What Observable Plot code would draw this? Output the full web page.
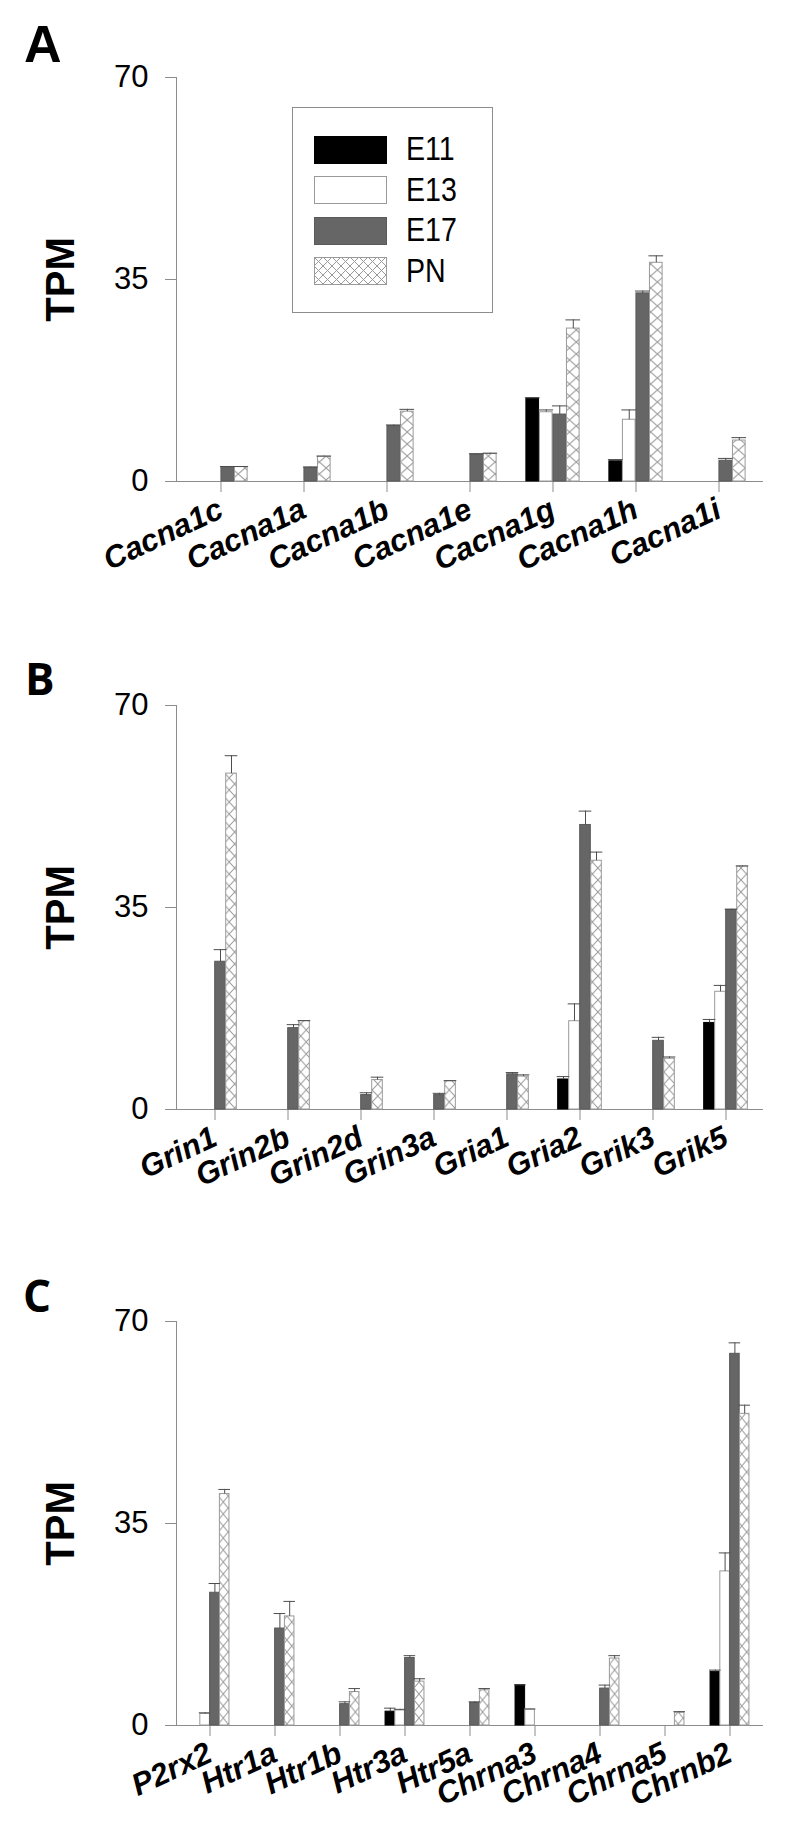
<!DOCTYPE html>
<html><head><meta charset="utf-8">
<script src="https://cdn.jsdelivr.net/npm/d3@7"></script>
<script src="https://cdn.jsdelivr.net/npm/@observablehq/plot@0.6"></script>
<style>
body{margin:0;background:#fff;}
#page{position:relative;width:792px;height:1836px;overflow:hidden;background:#fff;}
.letter{position:absolute;line-height:1;font-weight:bold;color:#000;}
.legtext{position:absolute;line-height:1;font-family:"Liberation Sans Narrow","Arial Narrow","Liberation Sans",Arial,sans-serif;font-size:34px;color:#000;transform-origin:0 0;white-space:nowrap;}
</style></head><body><div id="page"></div>
<script>
// ---------- data ----------
const stages = ["E11", "E13", "E17", "PN"];

const genesA = ["Cacna1c", "Cacna1a", "Cacna1b", "Cacna1e", "Cacna1g", "Cacna1h", "Cacna1i"];
const A_E11 = [null, null, null, null, 14.4, 3.5, null];
const A_E11_err = [null, null, null, null, 0.1, 0.3, null];
const A_E13 = [null, null, null, null, 12.0, 10.7, null];
const A_E13_err = [null, null, null, null, 0.4, 1.7, null];
const A_E17 = [2.5, 2.4, 9.6, 4.7, 11.6, 32.6, 3.6];
const A_E17_err = [0.1, 0.1, 0.2, 0.1, 1.5, 0.4, 0.4];
const A_PN = [2.5, 4.3, 12.1, 4.8, 26.5, 37.9, 7.1];
const A_PN_err = [0.1, 0.1, 0.4, 0.1, 1.5, 1.2, 0.5];

const genesB = ["Grin1", "Grin2b", "Grin2d", "Grin3a", "Gria1", "Gria2", "Grik3", "Grik5"];
const B_E11 = [null, null, null, null, null, 5.2, null, 15.0];
const B_E11_err = [null, null, null, null, null, 0.5, null, 0.6];
const B_E13 = [null, null, null, null, null, 15.3, null, 20.4];
const B_E13_err = [null, null, null, null, null, 3.0, null, 1.1];
const B_E17 = [25.6, 14.1, 2.5, 2.5, 6.1, 49.3, 11.9, 34.6];
const B_E17_err = [2.1, 0.6, 0.4, 0.3, 0.3, 2.4, 0.6, 0.1];
const B_PN = [58.2, 15.3, 5.1, 4.9, 5.7, 43.1, 8.8, 42.1];
const B_PN_err = [3.1, 0.1, 0.5, 0.1, 0.3, 1.5, 0.3, 0.1];

const genesC = ["P2rx2", "Htr1a", "Htr1b", "Htr3a", "Htr5a", "Chrna3", "Chrna4", "Chrna5", "Chrnb2"];
const C_E11 = [null, null, null, 2.4, null, 7.0, null, null, 9.3];
const C_E11_err = [null, null, null, 0.6, null, 0.05, null, null, 0.3];
const C_E13 = [2.0, null, null, 2.6, null, 2.8, null, null, 26.7];
const C_E13_err = [0.2, null, null, 0.2, null, 0.05, null, null, 3.2];
const C_E17 = [23.0, 16.8, 3.7, 11.7, 3.9, null, 6.4, null, 64.4];
const C_E17_err = [1.6, 2.6, 0.4, 0.4, 0.2, null, 0.6, null, 1.9];
const C_PN = [40.1, 18.9, 5.8, 7.6, 6.1, null, 11.6, 2.2, 54.0];
const C_PN_err = [0.8, 2.6, 0.6, 0.5, 0.3, null, 0.5, 0.2, 1.5];

const yTicks = [0, 35, 70];

// ---------- layout ----------
const W = 792, ML = 176, MR = 29, MT = 77, PH = 404;
const AXIS = "#8c8c8c", ERR = "#4d4d4d", HATCH = "#9a9a9a";
const page = document.getElementById("page");

// shared pattern defs
const defsSvg = d3.select(page).append("svg").attr("width", 0).attr("height", 0)
  .style("position", "absolute").style("left", 0).style("top", 0);
const defs = defsSvg.append("defs");
function addHatch(id, w, h, x0) {
  const p = defs.append("pattern").attr("id", id).attr("patternUnits", "userSpaceOnUse")
    .attr("width", w).attr("height", h).attr("x", x0 || 0);
  p.append("rect").attr("width", w).attr("height", h).attr("fill", "#fff");
  p.append("path").attr("d", `M0,0L${w},${h}M${w},0L0,${h}`)
    .attr("stroke", HATCH).attr("stroke-width", 1).attr("fill", "none");
}
addHatch("hatchLegend", 9, 9);

function panel({genes, vals, errs, frac, top, height, hatchId}) {
  const n = genes.length;
  const step = (W - ML - MR) / n;
  const w = step * frac / 4;
  const firstPN = ML + step * (1 - frac) / 2 + 3 * w;
  addHatch(hatchId, w, 12, firstPN);
  const fills = {E11: "#000", E13: "#fff", E17: "#666", PN: `url(#${hatchId})`};
  const strokes = {E11: "#000", E13: HATCH, E17: "#5a5a5a", PN: HATCH};
  const rows = [];
  stages.forEach((s, k) => genes.forEach((g, i) => {
    if (vals[k][i] != null) rows.push({gene: g, stage: s, v: vals[k][i], e: errs[k][i]});
  }));
  const marks = [
    Plot.ruleY([0], {stroke: AXIS}),
    Plot.frame({anchor: "left", stroke: AXIS}),
    Plot.axisY({ticks: yTicks, tickSize: 11, tickPadding: 17, fontSize: 31, stroke: AXIS, fill: "#000", label: null}),
    Plot.axisX({tickSize: 11, tickPadding: 15, tickRotate: -25, fontSize: 31, fontWeight: "bold",
      fontStyle: "italic", stroke: AXIS, fill: "#000", label: null}),
    Plot.text(["TPM"], {frameAnchor: "left", textAnchor: "middle", rotate: -90, dx: -115, fontSize: 40,
      fontWeight: "bold", fill: "#000"})
  ];
  stages.forEach((s, k) => {
    const L = step * (1 - frac) / 2 + k * w;
    const R = step - L - w;
    const d = rows.filter(r => r.stage === s);
    marks.push(Plot.barY(d, {x: "gene", y: "v", fill: fills[s], stroke: strokes[s], strokeWidth: 1,
      insetLeft: L, insetRight: R}));
  });
  stages.forEach((s, k) => {
    const L = step * (1 - frac) / 2 + k * w;
    const R = step - L - w;
    const d = rows.filter(r => r.stage === s);
    marks.push(Plot.ruleX(d, {x: "gene", y1: "v", y2: r => r.v + r.e, dx: L + w / 2 - step / 2, stroke: ERR}));
    marks.push(Plot.tickY(d, {x: "gene", y: r => r.v + r.e, insetLeft: L - 1, insetRight: R - 1, stroke: ERR}));
  });
  const svg = Plot.plot({
    width: W, height, marginLeft: ML, marginRight: MR, marginTop: MT, marginBottom: height - MT - PH,
    x: {domain: genes, padding: 0, axis: null},
    y: {domain: [0, 70], axis: null},
    style: {fontFamily: "'Liberation Sans', Arial, sans-serif", background: "transparent", overflow: "visible", color: "#000"},
    marks
  });
  svg.style.position = "absolute";
  svg.style.left = "0px";
  svg.style.top = top + "px";
  page.appendChild(svg);
}

panel({genes: genesA, vals: [A_E11, A_E13, A_E17, A_PN], errs: [A_E11_err, A_E13_err, A_E17_err, A_PN_err],
  frac: 0.645, top: 0, height: 615, hatchId: "hatchA"});
panel({genes: genesB, vals: [B_E11, B_E13, B_E17, B_PN], errs: [B_E11_err, B_E13_err, B_E17_err, B_PN_err],
  frac: 0.6, top: 628, height: 600, hatchId: "hatchB"});
panel({genes: genesC, vals: [C_E11, C_E13, C_E17, C_PN], errs: [C_E11_err, C_E13_err, C_E17_err, C_PN_err],
  frac: 0.6, top: 1244, height: 592, hatchId: "hatchC"});

// panel letters
function letter(txt, left, top, size, family) {
  const d = document.createElement("div");
  d.className = "letter";
  d.textContent = txt;
  d.style.left = left + "px"; d.style.top = top + "px";
  d.style.fontSize = size + "px"; d.style.fontFamily = family;
  page.appendChild(d);
}
letter("A", 24, 18, 52, "'Liberation Sans', Arial, sans-serif");
letter("B", 25, 656, 44, "'Open Sans', sans-serif");
letter("C", 23, 1273, 44, "'Open Sans', sans-serif");

// narrow-font check for legend labels
const ctx = document.createElement("canvas").getContext("2d");
ctx.font = "33px 'Liberation Sans Narrow', monospace";
const wNarrow = ctx.measureText("E11 PN").width;
ctx.font = "33px monospace";
const wMono = ctx.measureText("E11 PN").width;
const narrowAvailable = Math.abs(wNarrow - wMono) > 0.5;

// legend
const leg = d3.select(page).append("div")
  .style("position", "absolute").style("left", "292px").style("top", "107px")
  .style("width", "199px").style("height", "204px").style("border", "1px solid " + AXIS).style("background", "#fff");
const legFill = {E11: "#000", E13: "#fff", E17: "#666", PN: "url(#hatchLegend)"};
const legStroke = {E11: "#000", E13: HATCH, E17: "#5a5a5a", PN: HATCH};
stages.forEach((s, k) => {
  const sw = leg.append("svg").attr("width", 73).attr("height", 28)
    .style("position", "absolute").style("left", "21px").style("top", (27.5 + k * 40.5) + "px");
  sw.append("rect").attr("x", 0.5).attr("y", 0.5).attr("width", 72).attr("height", 27)
    .attr("fill", legFill[s]).attr("stroke", legStroke[s]);
  leg.append("div").attr("class", "legtext").style("left", "113px").style("top", (23 + k * 40.5) + "px")
    .style("transform", narrowAvailable ? "none" : "scaleX(0.84)").text(s);
});
</script></body></html>
